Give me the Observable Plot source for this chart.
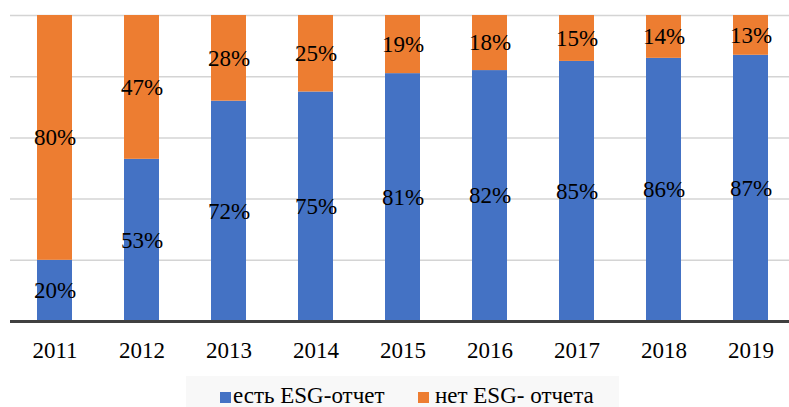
<!DOCTYPE html>
<html>
<head>
<meta charset="utf-8">
<script src="https://cdn.jsdelivr.net/npm/d3@7"></script>
<script src="https://cdn.jsdelivr.net/npm/@observablehq/plot@0.6"></script>
</head>
<body style="margin:0;background:#fff">
<div id="wrap" style="position:relative;width:789px;height:407px">
  <div id="chart"></div>
  <div id="legend" style="position:absolute;left:186px;top:376px;width:433px;height:31px;background:#f8f8f8;font-family:'Liberation Serif';font-size:23px;color:#000"></div>
</div>
<script>
const years = ["2011","2012","2013","2014","2015","2016","2017","2018","2019"];
const withReport = [20, 53, 72, 75, 81, 82, 85, 86, 87];
const withoutReport = [80, 47, 28, 25, 19, 18, 15, 14, 13];
const seriesNames = ["есть ESG-отчет", "нет ESG- отчета"];
const colors = ["#4472C4", "#ED7D31"];
const gridTicks = [20, 40, 60, 80, 100];

const data = [];
years.forEach((y, i) => {
  data.push({year: y, series: seriesNames[0], value: withReport[i]});
  data.push({year: y, series: seriesNames[1], value: withoutReport[i]});
});

const chart = Plot.plot({
  width: 789,
  height: 376,
  marginTop: 15,
  marginBottom: 55,
  marginLeft: 10,
  marginRight: 0,
  x: {domain: years, range: [9.875, 795.125], paddingInner: 0.6, paddingOuter: 0.3, label: null},
  y: {domain: [0, 100], axis: null},
  color: {domain: seriesNames, range: colors},
  marks: [
    Plot.ruleY(gridTicks, {stroke: "#d4d4d4", strokeWidth: 1.5}),
    Plot.barY(data, {x: "year", y: "value", fill: "series", order: seriesNames}),
    Plot.text(data, Plot.stackY({x: "year", y: "value", z: "series", order: seriesNames, text: d => d.value + "%", fill: "#000", fontSize: 23})),
    Plot.ruleY([0], {stroke: "#404040", strokeWidth: 3}),
    Plot.axisX({tickSize: 0, tickPadding: 20, fontSize: 23, fill: "#000"})
  ]
});
chart.setAttribute("font-family", "Liberation Serif");
chart.style.fontFamily = "'Liberation Serif'";
chart.querySelectorAll("text, g").forEach(el => {
  el.setAttribute("font-family", "Liberation Serif");
});
document.getElementById("chart").appendChild(chart);

const legend = document.getElementById("legend");
const swatchLeft = [34, 232];
const textLeft = [47, 249];
seriesNames.forEach((name, i) => {
  const sw = document.createElement("div");
  sw.setAttribute("style", `position:absolute;top:16px;left:${swatchLeft[i]}px;width:11px;height:11px;background:${colors[i]}`);
  legend.appendChild(sw);
  const it = document.createElement("div");
  it.setAttribute("style", `position:absolute;top:8px;left:${textLeft[i]}px;white-space:nowrap;line-height:23px;font-family:'Liberation Serif';font-size:23px`);
  it.textContent = name;
  legend.appendChild(it);
});
</script>
</body>
</html>
